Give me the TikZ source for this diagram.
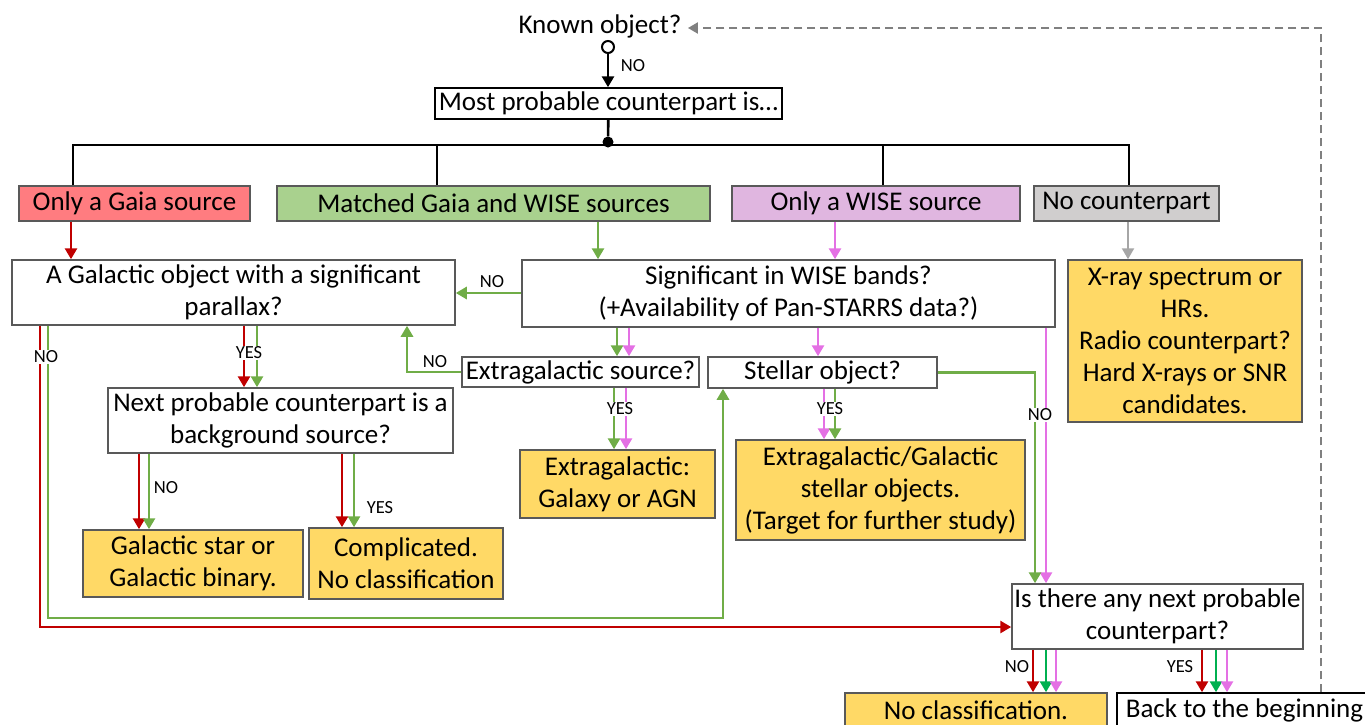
\documentclass[tikz,border=0pt]{standalone}
\usepackage{fontspec}
\setmainfont{Carlito}
\usetikzlibrary{arrows.meta}

\definecolor{arrowred}{RGB}{192,0,0}
\definecolor{arrowgreen}{RGB}{112,173,71}
\definecolor{arrowpink}{RGB}{228,112,228}
\definecolor{brightgreen}{RGB}{0,176,80}
\definecolor{loopgray}{RGB}{128,128,128}
\definecolor{gaiared}{RGB}{255,124,128}
\definecolor{matchgreen}{RGB}{169,209,142}
\definecolor{wiselilac}{RGB}{224,182,224}
\definecolor{nocpgray}{RGB}{208,206,206}
\definecolor{leafyellow}{RGB}{255,217,102}
\definecolor{edgegray}{RGB}{89,89,89}

\begin{document}
\begin{tikzpicture}[x=1pt,y=-1pt,
    every node/.style={font=\fontsize{27}{32}\selectfont},
    box/.style 2 args={draw=edgegray, line width=1.5pt, fill=white,
      inner sep=0pt, align=center, minimum width=#1, minimum height=#2},
    leaf/.style 2 args={box={#1}{#2}, fill=leafyellow},
    flag/.style={font=\fontsize{18.5}{20}\selectfont, inner sep=1pt},
    flag on line/.style={flag, fill=white},
    trunk/.style={line width=2.6pt},
    link/.style={line width=2.8pt, -{Triangle[width=12pt,length=11pt]}},
    red link/.style={link, arrowred},
    green link/.style={link, arrowgreen},
    pink link/.style={link, arrowpink},
    bright link/.style={link, brightgreen},
    gray link/.style={link, line width=2.2pt, black!35},
    loop back/.style={line width=2.2pt, loopgray, dash pattern=on 8pt off 5pt,
      -{Triangle[width=11pt,length=10pt]}}
  ]
  \useasboundingbox (0,0) rectangle (1365,724);
  \clip (0,0) rectangle (1365,724);

  % start
  \node (known) [anchor=base] at (600,33) {Known object?};
  \node[circle, draw, line width=2pt, fill=white, minimum size=12pt,
    inner sep=0pt] (start) at (608,47) {};
  \node[box={347pt}{31pt}, draw=black] (most) at (608.5,103.5)
    {Most probable counterpart is…};
  \node[circle, fill, inner sep=0pt, minimum size=11pt] (hub) at (608,142) {};

  % the four kinds of counterpart
  \node[box={231pt}{35pt}, fill=gaiared] (gaia) at (134.5,203.5) {Only a Gaia source};
  \node[box={433pt}{35pt}, fill=matchgreen] (matched) at (493.5,203.5)
    {Matched Gaia and WISE sources};
  \node[box={288pt}{35pt}, fill=wiselilac] (wise) at (876,203.5) {Only a WISE source};
  \node[box={185pt}{35pt}, fill=nocpgray] (nocp) at (1126.5,203.5) {No counterpart};

  % questions
  \node[box={443pt}{65pt}] (galobj) at (233.5,292.5)
    {A Galactic object with a significant\\parallax?};
  \node[box={533pt}{67pt}] (sigwise) at (788.5,293.5)
    {Significant in WISE bands?\\(+Availability of Pan-STARRS data?)};
  \node[box={237pt}{30pt}] (extsrc) at (580.5,372) {Extragalactic source?};
  \node[box={229pt}{31pt}] (stellar) at (822.5,372.5) {Stellar object?};
  \node[box={345pt}{65pt}] (nextbg) at (280.5,420.5)
    {Next probable counterpart is a\\background source?};
  \node[box={291pt}{65pt}] (isthere) at (1157.5,616.5)
    {Is there any next probable\\counterpart?};

  % outcomes
  \node[leaf={234pt}{162pt}] (xray) at (1185,341)
    {X-ray spectrum or\\HRs.\\Radio counterpart?\\Hard X-rays or SNR\\candidates.};
  \node[leaf={195pt}{68pt}] (galaxy) at (617.5,484) {Extragalactic:\\Galaxy or AGN};
  \node[leaf={289pt}{100pt}] (starobj) at (880.5,490)
    {Extragalactic/Galactic\\stellar objects.\\(Target for further study)};
  \node[leaf={220pt}{67pt}] (galstar) at (193,563.5) {Galactic star or\\Galactic binary.};
  \node[leaf={194pt}{71pt}] (compl) at (406,563.5) {Complicated.\\No classification};
  \node[leaf={262pt}{34pt}] (noclass) at (976,710) {No classification.};
  \node[box={255pt}{34pt}, draw=black] (back) at (1244.5,710) {Back to the beginning};

  % top part
  \draw[link] (start.south) -- (start.south |- most.north);
  \draw[trunk] (most) -- (hub);
  \coordinate (busL) at (73,145);
  \coordinate (busR) at (1129,145);
  \draw[trunk] (gaia.north -| busL) |- (busR) -- (busR |- nocp.north);
  \draw[trunk] (437,145) -- (matched.north -| 437,0);
  \draw[trunk] (883,145) -- (wise.north -| 883,0);

  \draw[red link] (gaia.south -| 71,0) -- (galobj.north -| 71,0);
  \draw[green link] (matched.south -| 598,0) -- (sigwise.north -| 598,0);
  \draw[pink link] (wise.south -| 835,0) -- (sigwise.north -| 835,0);
  \draw[gray link] (nocp.south -| 1128,0) -- (xray.north -| 1128,0);

  % Gaia side
  \draw[red link] (galobj.south -| 40,0) |- (isthere.west |- 0,627);
  \draw[green link] (galobj.south -| 48,0) |- (723,618) -- (stellar.south -| 723,0);
  \draw[red link] (galobj.south -| 244,0) -- (nextbg.north -| 244,0);
  \draw[green link] (galobj.south -| 257,0) -- (nextbg.north -| 257,0);
  \draw[red link] (nextbg.south -| 139,0) -- (galstar.north -| 139,0);
  \draw[green link] (nextbg.south -| 149,0) -- (galstar.north -| 149,0);
  \draw[red link] (nextbg.south -| 342,0) -- (compl.north -| 342,0);
  \draw[green link] (nextbg.south -| 354,0) -- (compl.north -| 354,0);

  % WISE side
  \draw[green link] (sigwise.west |- 0,293) -- (galobj.east |- 0,293);
  \draw[green link] (extsrc.west) -| (galobj.south -| 407,0);
  \draw[green link] (sigwise.south -| 617,0) -- (extsrc.north -| 617,0);
  \draw[pink link] (sigwise.south -| 629,0) -- (extsrc.north -| 629,0);
  \draw[pink link] (sigwise.south -| 818,0) -- (stellar.north -| 818,0);
  \draw[pink link] (sigwise.south -| 1046,0) -- (isthere.north -| 1046,0);
  \draw[green link] (extsrc.south -| 614,0) -- (galaxy.north -| 614,0);
  \draw[pink link] (extsrc.south -| 626,0) -- (galaxy.north -| 626,0);
  \draw[pink link] (stellar.south -| 824,0) -- (starobj.north -| 824,0);
  \draw[green link] (stellar.south -| 835,0) -- (starobj.north -| 835,0);
  \draw[green link] (stellar.east) -| (isthere.north -| 1035,0);

  % last question
  \draw[red link] (isthere.south -| 1033,0) -- (noclass.north -| 1033,0);
  \draw[bright link] (isthere.south -| 1046,0) -- (noclass.north -| 1046,0);
  \draw[pink link] (isthere.south -| 1056,0) -- (noclass.north -| 1056,0);
  \draw[red link] (isthere.south -| 1202,0) -- (back.north -| 1202,0);
  \draw[bright link] (isthere.south -| 1216,0) -- (back.north -| 1216,0);
  \draw[pink link] (isthere.south -| 1227,0) -- (back.north -| 1227,0);
  \draw[loop back] (back.north -| 1321,0) |- ([xshift=3pt]known.east |- 0,28);

  % answers
  \node[flag] at (633,66) {NO};
  \node[flag on line] at (46,357) {NO};
  \node[flag on line] at (249,353) {YES};
  \node[flag] at (166,488) {NO};
  \node[flag] at (380,508) {YES};
  \node[flag] at (492,282) {NO};
  \node[flag] at (435,362) {NO};
  \node[flag on line] at (620,409) {YES};
  \node[flag on line] at (830,409) {YES};
  \node[flag on line] at (1040,415) {NO};
  \node[flag] at (1017,667) {NO};
  \node[flag] at (1180,667) {YES};
\end{tikzpicture}
\end{document}
